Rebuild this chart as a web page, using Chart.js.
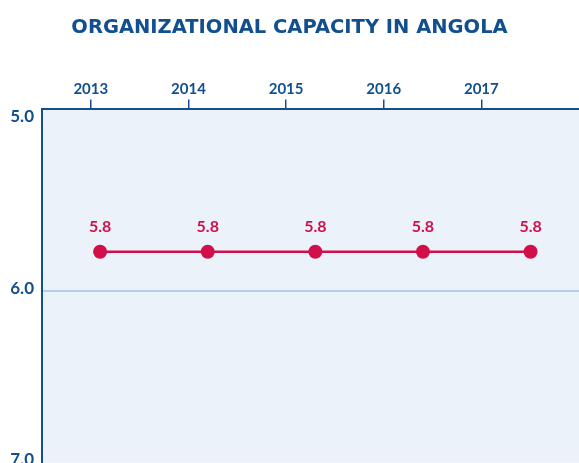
<!DOCTYPE html>
<html>
<head>
<meta charset="utf-8">
<script src="https://cdn.jsdelivr.net/npm/chart.js@4/dist/chart.umd.min.js"></script>
<style>
  html, body { margin: 0; padding: 0; background: #fff; overflow: hidden; }
  /* taller than the window so the plot runs off the bottom edge */
  #wrap { width: 579px; height: 481px; position: relative; }
</style>
</head>
<body>
<div id="wrap"><canvas id="myChart"></canvas></div>
<script>
const years = ['2013', '2014', '2015', '2016', '2017'];
const capacity = [5.77, 5.77, 5.77, 5.77, 5.77];
const capacityLabels = ['5.8', '5.8', '5.8', '5.8', '5.8'];
const yTicks = [5, 6, 7];

const navy = '#124f8e';
const red = '#d20f48';

// light blue panel behind the plot
const panelBg = {
  id: 'panelBg',
  beforeDraw(chart) {
    const a = chart.chartArea;
    const ctx = chart.ctx;
    ctx.save();
    ctx.fillStyle = '#ebf2fa';
    ctx.fillRect(a.left, a.top, a.right - a.left, a.bottom - a.top);
    ctx.restore();
  }
};

// value labels above the points
const valueLabels = {
  id: 'valueLabels',
  afterDatasetsDraw(chart) {
    const ctx = chart.ctx;
    const meta = chart.getDatasetMeta(0);
    ctx.save();
    ctx.fillStyle = red;
    ctx.font = 'bold 16px Lato';
    ctx.textAlign = 'center';
    ctx.textBaseline = 'middle';
    meta.data.forEach((pt, i) => {
      ctx.fillText(capacityLabels[i], pt.x, pt.y - 25);
    });
    ctx.restore();
  }
};

const ctx = document.getElementById('myChart');
const myChart = new Chart(ctx, {
  type: 'line',
  data: {
    datasets: [{
      label: 'Organizational capacity',
      data: years.map((yr, i) => ({ x: i, y: capacity[i] })),
      borderColor: red,
      backgroundColor: red,
      borderWidth: 2.5,
      pointRadius: 7,
      pointBackgroundColor: red,
      pointBorderWidth: 0,
      xAxisID: 'x',
      yAxisID: 'y'
    }]
  },
  options: {
    responsive: true,
    maintainAspectRatio: false,
    animation: false,
    layout: { autoPadding: false, padding: 0 },
    plugins: {
      legend: { display: false },
      tooltip: { enabled: false },
      title: {
        display: true,
        text: 'ORGANIZATIONAL CAPACITY IN ANGOLA',
        color: navy,
        font: { family: 'DejaVu Sans', size: 19.5, weight: 'bold' },
        padding: { top: 16, bottom: 40 }
      }
    },
    scales: {
      // hidden scale the points are placed on
      x: {
        type: 'linear',
        display: false,
        min: -0.54,
        max: 4.45
      },
      // visible year axis along the top
      years: {
        type: 'linear',
        position: 'top',
        min: -0.5,
        max: 5,
        afterBuildTicks: (axis) => {
          axis.ticks = years.map((yr, i) => ({ value: i }));
        },
        ticks: {
          color: navy,
          font: { family: 'Lato', size: 15, weight: 'bold' },
          padding: 1,
          maxRotation: 0,
          callback: (v) => years[v]
        },
        grid: {
          drawOnChartArea: false,
          color: navy,
          lineWidth: 1.5,
          tickLength: 10
        },
        border: { color: navy, width: 2 }
      },
      y: {
        reverse: true,
        min: 4.94,
        max: 7,
        afterBuildTicks: (axis) => {
          axis.ticks = yTicks.map((v) => ({ value: v }));
        },
        afterFit: (axis) => {
          axis.width = 42;
        },
        ticks: {
          color: navy,
          font: { family: 'Lato', size: 17, weight: 'bold' },
          padding: 8,
          labelOffset: -3,
          callback: (v) => v.toFixed(1)
        },
        grid: {
          drawTicks: false,
          lineWidth: 2,
          color: (c) => (c.tick && c.tick.value === 6 ? '#b7cde8' : 'rgba(0,0,0,0)')
        },
        border: { color: navy, width: 2 }
      }
    }
  },
  plugins: [panelBg, valueLabels]
});
</script>
</body>
</html>
